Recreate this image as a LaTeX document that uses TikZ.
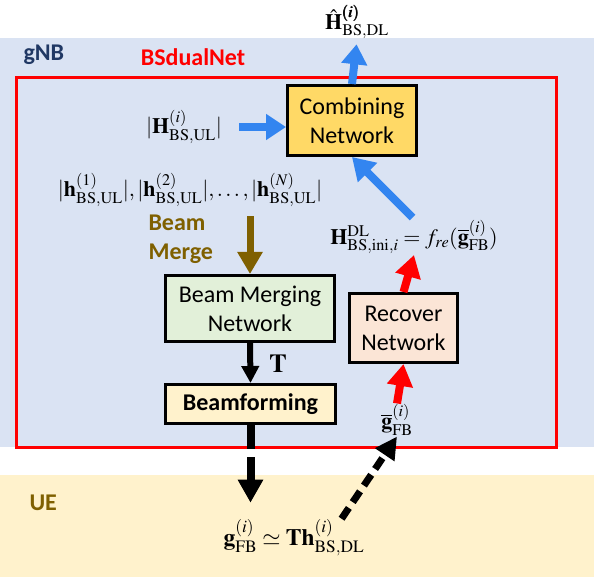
\documentclass[tikz,border=0pt]{standalone}
\usepackage{amsmath,amssymb}
\usepackage{mathptmx}
\usepackage[no-math]{fontspec}
\setmainfont{Carlito}
\usepackage{tikz}
\usetikzlibrary{arrows.meta,positioning}
\usepackage{xcolor}
\definecolor{GnbFill}{HTML}{DAE3F3}
\definecolor{UeFill}{HTML}{FFF2CC}
\definecolor{GnbText}{HTML}{203864}
\definecolor{MergeBrown}{HTML}{7F6000}
\definecolor{NetRed}{HTML}{FF0000}
\definecolor{ArrowBlue}{HTML}{3385F0}
\definecolor{CombFill}{HTML}{FFD966}
\definecolor{MergeFill}{HTML}{E2F0D9}
\definecolor{BfFill}{HTML}{FFF2CC}
\definecolor{RecFill}{HTML}{FBE5D6}
\newcommand{\bsul}{\mathrm{BS,UL}}
\newcommand{\bsdl}{\mathrm{BS,DL}}
\newcommand{\fb}{\mathrm{FB}}

\begin{document}
\begin{tikzpicture}[x=1pt, y=1pt,
    every node/.style={font=\fontsize{24}{29}\selectfont},
    netbox/.style={draw=black, line width=3pt, align=center, inner sep=0pt},
    mathlbl/.style={font=\fontsize{22}{26}\selectfont, inner sep=1pt}]
        \useasboundingbox (0,0) rectangle (594,-577);
        % areas
        \fill[GnbFill] (0,-38) rectangle (594,-447);
        \fill[UeFill] (0,-475) rectangle (594,-577);
        \draw[NetRed, line width=3pt] (16,-78) rectangle (556,-447);
        \node[anchor=west, text=GnbText, font=\fontsize{24}{29}\selectfont\bfseries]
              (gnb) at (20,-55) {gNB};
        \node[text=NetRed, font=\fontsize{24}{29}\selectfont\bfseries]
              (bsdual) at (193,-57) {BSdualNet};
        \node[anchor=west, text=MergeBrown, font=\fontsize{24}{29}\selectfont\bfseries]
              (ue) at (26,-503) {UE};

        % networks
        \node[netbox, fill=CombFill, minimum width=129, minimum height=70]
              (comb) at (352,-120.5) {Combining\\Network};
        \node[netbox, fill=MergeFill, minimum width=169, minimum height=66]
              (bmn) at (250,-308.5) {Beam Merging\\Network};
        \node[netbox, fill=BfFill, minimum width=170, minimum height=39,
              font=\fontsize{24}{29}\selectfont\bfseries]
              (bf) at (250.5,-404) {Beamforming};
        \node[netbox, fill=RecFill, minimum width=108, minimum height=69]
              (rec) at (403.5,-328) {Recover\\Network};

        % signals
        \node[mathlbl] (hhat) at (357,-22)
              {$\hat{\mathbf{H}}^{\pmb{(i)}}_{\bsdl}$};
        \node[mathlbl] (hul) at (184,-127) {$|\mathbf{H}^{(i)}_{\bsul}|$};
        \node[mathlbl] (hlist) at (190,-190)
              {$|\mathbf{h}^{(1)}_{\bsul}|,|\mathbf{h}^{(2)}_{\bsul}|,\ldots,|\mathbf{h}^{(N)}_{\bsul}|$};
        \node[anchor=west, align=left, text=MergeBrown,
              font=\fontsize{24}{29}\selectfont\bfseries]
              (merge) at (145,-239.5) {Beam\\Merge};
        \node[mathlbl, font=\fontsize{26}{30}\selectfont] (tmat) at (278,-364) {$\mathbf{T}$};
        \node[mathlbl] (hdl) at (414,-237)
              {$\mathbf{H}^{\mathrm{DL}}_{\mathrm{BS,ini},i}=f_{re}(\overline{\mathbf{g}}^{(i)}_{\fb})$};
        \node[mathlbl] (gbar) at (397,-420) {$\overline{\mathbf{g}}^{(i)}_{\fb}$};
        \node[mathlbl, font=\fontsize{23.5}{28}\selectfont] (gfb) at (294,-538)
              {$\mathbf{g}^{(i)}_{\fb}\simeq\mathbf{Th}^{(i)}_{\bsdl}$};

        % connectors
        \draw[-{Triangle[length=20pt,width=25pt]}, line width=8pt, ArrowBlue,
              shorten >=4pt] (comb.north) -- (hhat.south);
        \draw[-{Triangle[length=20pt,width=25pt]}, line width=8pt, ArrowBlue,
              shorten <=16pt] (hul.east) -- (hul.east -| comb.west);
        \draw[-{Triangle[length=22pt,width=26pt]}, line width=8pt, ArrowBlue,
              shorten <=2pt] (hdl.north) -- (comb.south);
        \draw[-{Triangle[length=22pt,width=24pt]}, line width=7pt, MergeBrown,
              shorten <=8pt] (bmn.north |- hlist.south) -- (bmn.north);
        \draw[-{Triangle[length=22pt,width=25pt]}, line width=8pt, NetRed]
              (rec.north) -- (hdl.south);
        \draw[-{Triangle[length=22pt,width=25pt]}, line width=8pt, NetRed]
              (gbar.north) -- (rec.south);
        \draw[-{Triangle[length=17pt,width=17pt]}, line width=6pt]
              (bmn.south) -- (bf.north);
        \draw[-{Triangle[length=23pt,width=24pt]}, line width=8pt,
              dash pattern=on 24pt off 8pt, shorten >=16pt]
              (bf.south) -- (bf.south |- gfb.north);
        \draw[-{Triangle[length=22pt,width=22pt]}, line width=7pt,
              dash pattern=on 13pt off 7pt]
              ([xshift=-24pt]gfb.north east) -- (gbar.south);
\end{tikzpicture}
\end{document}
